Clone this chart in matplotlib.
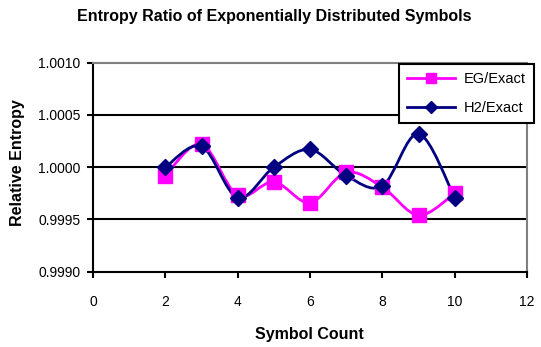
import numpy as np
import matplotlib
matplotlib.use('Agg')
import matplotlib.pyplot as plt
from matplotlib.path import Path
from matplotlib.patches import PathPatch
from matplotlib.lines import Line2D

plt.rcParams['font.family'] = ['Liberation Sans', 'DejaVu Sans']

# data
symbols = [2, 3, 4, 5, 6, 7, 8, 9, 10]
eg_exact = [0.99992, 1.00022, 0.99973, 0.99986, 0.99966, 0.99995, 0.99981, 0.99954, 0.99975]
h2_exact = [1.00000, 1.00020, 0.99971, 1.00000, 1.00017, 0.99992, 0.99982, 1.00032, 0.99971]
yticks = [0.9990, 0.9995, 1.0000, 1.0005, 1.0010]
xticks = [0, 2, 4, 6, 8, 10, 12]

pink = '#ff00ff'
navy = '#000080'


def smooth_path(x, y):
    # excel-style smoothed line: cubic bezier through the points
    pts = np.column_stack([x, y]).astype(float)
    n = len(pts)
    verts = [pts[0]]
    codes = [Path.MOVETO]
    for i in range(n - 1):
        p0 = pts[i - 1] if i > 0 else pts[i]
        p1 = pts[i]
        p2 = pts[i + 1]
        p3 = pts[i + 2] if i + 2 < n else pts[i + 1]
        c1 = p1 + (p2 - p0) / 6.0
        c2 = p2 - (p3 - p1) / 6.0
        verts += [c1, c2, p2]
        codes += [Path.CURVE4] * 3
    return Path(verts, codes)


fig = plt.figure(figsize=(5.41, 3.47), dpi=100)
ax = fig.add_axes([93 / 541, 1 - 271.7 / 347, 434 / 541, 209 / 347])

ax.set_xlim(0, 12)
ax.set_ylim(0.9990, 1.0010)
ax.set_xticks(xticks)
ax.set_yticks(yticks)
ax.set_yticklabels(['%.4f' % v for v in yticks])
ax.tick_params(direction='out', length=4, width=1.5, labelsize=10, pad=13)
ax.tick_params(axis='y', pad=5)

for v in yticks[1:-1]:
    ax.axhline(v, color='black', lw=1.5, zorder=1)

ax.spines['left'].set_linewidth(1.5)
ax.spines['bottom'].set_linewidth(1.5)
ax.spines['top'].set_color('0.5')
ax.spines['right'].set_color('0.5')
ax.spines['top'].set_linewidth(1.5)
ax.spines['right'].set_linewidth(1.5)

for ys, col, mk, ms in [(eg_exact, pink, 's', 9.5), (h2_exact, navy, 'D', 8.5)]:
    ax.add_patch(PathPatch(smooth_path(symbols, ys), fc='none', ec=col, lw=2, zorder=3))
    ax.plot(symbols, ys, ls='none', marker=mk, ms=ms, color=col, zorder=4)

handles = [Line2D([], [], color=pink, lw=2, marker='s', ms=7),
           Line2D([], [], color=navy, lw=2, marker='D', ms=6)]
leg = fig.legend(handles, ['EG/Exact', 'H2/Exact'], loc='upper left',
                 bbox_to_anchor=(399 / 541, 1 - 64 / 347), fancybox=False,
                 framealpha=1, edgecolor='black', fontsize=10.5, handlelength=3.3,
                 borderpad=0.55, labelspacing=1.05, handletextpad=0.6,
                 borderaxespad=0)
leg.get_frame().set_linewidth(1.5)

fig.text(274 / 541, 1 - 16 / 347, 'Entropy Ratio of Exponentially Distributed Symbols',
         ha='center', va='center', fontsize=11.5, fontweight='bold')
fig.text(309 / 541, 1 - 335 / 347, 'Symbol Count', ha='center', va='center',
         fontsize=11.5, fontweight='bold')
fig.text(17.5 / 541, 1 - 163 / 347, 'Relative Entropy', ha='center', va='center',
         rotation=90, fontsize=11.5, fontweight='bold')

fig.savefig('out.png', dpi=100)
